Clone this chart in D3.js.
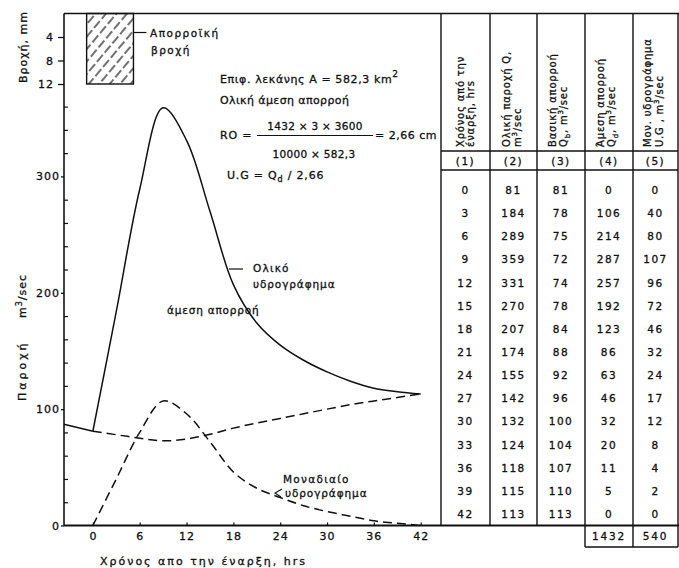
<!DOCTYPE html>
<html>
<head>
<meta charset="utf-8">
<script src="https://cdnjs.cloudflare.com/ajax/libs/d3/7.8.5/d3.min.js"></script>
<style>
body { margin: 0; background: #fff; }
svg { display: block; background: #fff; }
text { font-family: "DejaVu Sans", sans-serif; fill: #111; stroke: #111; stroke-width: 0.3px; }
</style>
</head>
<body>
<svg id="chart" width="679" height="568"></svg>
<script>
// table data (hrs, m3/sec)
var times   = [0, 3, 6, 9, 12, 15, 18, 21, 24, 27, 30, 33, 36, 39, 42];
var totalQ  = [81, 184, 289, 359, 331, 270, 207, 174, 155, 142, 132, 124, 118, 115, 113];
var baseQ   = [81, 78, 75, 72, 74, 78, 84, 88, 92, 96, 100, 104, 107, 110, 113];
var directQ = [0, 106, 214, 287, 257, 192, 123, 86, 63, 46, 32, 20, 11, 5, 0];
var unitQ   = [0, 40, 80, 107, 96, 72, 46, 32, 24, 17, 12, 8, 4, 2, 0];
var sums    = [1432, 540];

var preT = [-3.7, 0];
var preQ = [87, 81];

// effective rainfall block
var rainT = [-0.8, 5.2];
var rainDepth = 12;

var xTicks = [0, 6, 12, 18, 24, 30, 36, 42];
var qTicks = [0, 100, 200, 300];
var rainTicks = [4, 8, 12];

!(function (d3) {

var svg = d3.select("#chart");
var ink = "#111";

var yTop = 13.5, yBot = 525.5, xLeft = 64, xRight = 441;

var x = d3.scaleLinear().domain([-3.7, 44.6]).range([xLeft, xRight]);
var y = d3.scaleLinear().domain([0, 440]).range([yBot, yTop]);
var rain = d3.scaleLinear().domain([0, 12]).range([yTop, 84]);

function hline(x1, x2, yy, w) {
  svg.append("line").attr("x1", x1).attr("x2", x2).attr("y1", yy).attr("y2", yy)
    .attr("stroke", ink).attr("stroke-width", w || 1.4);
}
function vline(xx, y1, y2, w) {
  svg.append("line").attr("x1", xx).attr("x2", xx).attr("y1", y1).attr("y2", y2)
    .attr("stroke", ink).attr("stroke-width", w || 1.4);
}
function label(xx, yy, html, size, spacing, anchor) {
  return svg.append("text")
    .attr("x", xx).attr("y", yy)
    .attr("text-anchor", anchor || "start")
    .style("font-size", (size || 11) + "px")
    .style("letter-spacing", (spacing == null ? 0.5 : spacing) + "px")
    .html(html);
}

// hatch for rainfall
var defs = svg.append("defs");
defs.append("pattern")
    .attr("id", "hatch")
    .attr("patternUnits", "userSpaceOnUse")
    .attr("width", 8).attr("height", 12)
    .attr("patternTransform", "rotate(40)")
  .append("line")
    .attr("x1", 2).attr("x2", 2).attr("y1", 0).attr("y2", 12)
    .attr("stroke", ink).attr("stroke-width", 1.2)
    .attr("stroke-dasharray", "9,3");

// frame
vline(xLeft, yTop, yBot, 1.6);
hline(xLeft, 679, yTop, 1.4);
hline(xLeft, 679, yBot, 1.8);

// discharge axis
var gy = svg.append("g").attr("transform", "translate(" + xLeft + ",0)")
  .call(d3.axisLeft(y).tickValues(qTicks).tickSize(3).tickPadding(1).tickFormat(d3.format("d")));
gy.select(".domain").remove();
gy.selectAll("text").style("font-size", "11px").style("letter-spacing", "1px").attr("fill", ink);
gy.selectAll("line").attr("stroke", ink).attr("stroke-width", 1.3);

var gm = svg.append("g").attr("transform", "translate(" + xLeft + ",0)")
  .call(d3.axisRight(y).tickValues(d3.range(20, 380, 20).filter(function(v) { return v % 100; }))
    .tickSize(4).tickFormat(""));
gm.select(".domain").remove();
gm.selectAll("line").attr("stroke", ink).attr("stroke-width", 1.2);

// rainfall axis
var gr = svg.append("g").attr("transform", "translate(" + xLeft + ",0)")
  .call(d3.axisLeft(rain).tickValues(rainTicks).tickSize(6).tickPadding(4));
gr.select(".domain").remove();
gr.selectAll("text").style("font-size", "11px").style("letter-spacing", "1px").attr("fill", ink);
gr.selectAll("line").attr("stroke", ink).attr("stroke-width", 1.3);

// time axis
var gx = svg.append("g").attr("transform", "translate(0," + yBot + ")")
  .call(d3.axisBottom(x).tickValues(xTicks).tickSize(0).tickPadding(7));
gx.select(".domain").remove();
gx.selectAll("text").style("font-size", "11px").style("letter-spacing", "1px").attr("fill", ink);

var gxt = svg.append("g").attr("transform", "translate(0," + yBot + ")")
  .call(d3.axisTop(x).tickValues(xTicks).tickSize(3).tickFormat(""));
gxt.select(".domain").remove();
gxt.selectAll("line").attr("stroke", ink).attr("stroke-width", 1.2);

// axis titles
svg.append("text").attr("transform", "translate(26.5,83) rotate(-90)")
  .style("font-size", "11px").style("letter-spacing", "1px").text("Βροχή, mm");
svg.append("text").attr("transform", "translate(26,401) rotate(-90)")
  .style("font-size", "11px").style("letter-spacing", "3px").text("Παροχή");
svg.append("text").attr("transform", "translate(26,318) rotate(-90)")
  .style("font-size", "11px").style("letter-spacing", "1px")
  .html("m<tspan dy='-4' font-size='8'>3</tspan><tspan dy='4'>/sec</tspan>");
label(100, 565, "Χρόνος απο την έναρξη, hrs", 11, 2);

// rainfall block
svg.append("rect")
  .attr("x", x(rainT[0])).attr("y", rain(0))
  .attr("width", x(rainT[1]) - x(rainT[0]))
  .attr("height", rain(rainDepth) - rain(0))
  .attr("fill", "url(#hatch)")
  .attr("stroke", ink).attr("stroke-width", 1.4);
hline(x(rainT[1]), x(rainT[1]) + 13, 32.5, 1.2);
label(150, 36.5, "Απορροϊκή", 10.5, 1.5);
label(151, 54, "βροχή", 10.5, 1.5);

// curves
var line = d3.line()
  .x(function(d) { return x(d[0]); })
  .y(function(d) { return y(d[1]); });

svg.append("path")
  .datum(d3.zip(preT, preQ))
  .attr("d", line.curve(d3.curveLinear))
  .attr("fill", "none").attr("stroke", ink).attr("stroke-width", 1.5);

svg.append("path")
  .datum(d3.zip(times, totalQ))
  .attr("d", line.curve(d3.curveCatmullRom.alpha(0.5)))
  .attr("fill", "none").attr("stroke", ink).attr("stroke-width", 1.5);

svg.append("path")
  .datum(d3.zip(times, baseQ))
  .attr("d", line.curve(d3.curveBasis))
  .attr("fill", "none").attr("stroke", ink).attr("stroke-width", 1.5)
  .attr("stroke-dasharray", "9,5");

svg.append("path")
  .datum(d3.zip(times, unitQ))
  .attr("d", line.curve(d3.curveCatmullRom.alpha(0.5)))
  .attr("fill", "none").attr("stroke", ink).attr("stroke-width", 1.5)
  .attr("stroke-dasharray", "9,5");

// notes on the graph
label(220, 83, "Επιφ. λεκάνης  Α = 582,3 km<tspan dy='-6' font-size='9'>2</tspan>", 11, 0.6);
label(220, 104, "Ολική άμεση απορροή", 11, 0.4);
label(220, 139, "RO =", 11, 0.8);
label(315, 130, "1432 × 3 × 3600", 10.5, 0.3, "middle");
hline(257, 373, 135.5, 1.1);
label(314, 158, "10000 × 582,3", 10.5, 0.3, "middle");
label(375, 139, "= 2,66 cm", 11, 0.5);
label(227, 179, "U.G = Q<tspan dy='3' font-size='8'>d</tspan><tspan dy='-3'> / 2,66</tspan>", 11, 0.8);

hline(229, 243, 269, 1.2);
label(253, 272, "Ολικό", 10.5, 1.2);
label(253, 288, "υδρογράφημα", 10.5, 0.9);
label(167, 314, "άμεση απορροή", 10.5, 0.8);
svg.append("path").attr("d", "M282,489 L275,493 L281,497")
  .attr("fill", "none").attr("stroke", ink).attr("stroke-width", 1.1);
label(283, 483, "Μοναδιαίο", 10.5, 1.3);
label(285, 497, "υδρογράφημα", 10.5, 0.9);

// table
var cols = [441, 490, 537, 585, 633, 678];
cols.forEach(function(c) { vline(c, yTop, yBot, 1.4); });
hline(cols[0], cols[5], 151, 1.4);
hline(cols[0], cols[5], 170, 1.4);

var heads = [
  ["Χρόνος από την", "έναρξη, hrs"],
  ["Ολική παροχή Q,", "m<tspan dy='-4' font-size='7'>3</tspan><tspan dy='4'>/sec</tspan>"],
  ["Βασική απορροή", "Q<tspan dy='3' font-size='7'>b</tspan><tspan dy='-3'>, m</tspan><tspan dy='-4' font-size='7'>3</tspan><tspan dy='4'>/sec</tspan>"],
  ["Άμεση απορροή", "Q<tspan dy='3' font-size='7'>d</tspan><tspan dy='-3'>, m</tspan><tspan dy='-4' font-size='7'>3</tspan><tspan dy='4'>/sec</tspan>"],
  ["Μον. υδρογράφημα", "U.G , m<tspan dy='-4' font-size='7'>3</tspan><tspan dy='4'>/sec</tspan>"]
];
var headOff = [[23, 33], [20, 31], [18.5, 30], [18.5, 30], [17.5, 30]];

heads.forEach(function(h, i) {
  h.forEach(function(s, j) {
    svg.append("text")
      .attr("transform", "translate(" + (cols[i] + headOff[i][j]) + ",147) rotate(-90)")
      .style("font-size", "10px").style("letter-spacing", "0.8px")
      .html(s);
  });
  label((cols[i] + cols[i + 1]) / 2, 165, "(" + (i + 1) + ")", 10.5, 1.5, "middle");
});

var row = d3.scalePoint().domain(times).range([190, 514]);
var colData = [times, totalQ, baseQ, directQ, unitQ];

colData.forEach(function(vals, i) {
  svg.append("g").selectAll("text")
    .data(vals)
    .enter().append("text")
      .attr("x", (cols[i] + cols[i + 1]) / 2)
      .attr("y", function(d, k) { return row(times[k]) + 4; })
      .attr("text-anchor", "middle")
      .style("font-size", "10.5px")
      .style("letter-spacing", "1.5px")
      .text(function(d) { return d; });
});

// sums under columns (4) and (5)
vline(cols[3], yBot, 547, 1.4);
vline(cols[4], yBot, 547, 1.4);
vline(cols[5], yBot, 547, 1.4);
hline(cols[3], cols[5], 547, 1.4);
sums.forEach(function(s, i) {
  label((cols[3 + i] + cols[4 + i]) / 2, 540, s, 10.5, 1.8, "middle");
});

})(d3);
</script>
</body>
</html>
